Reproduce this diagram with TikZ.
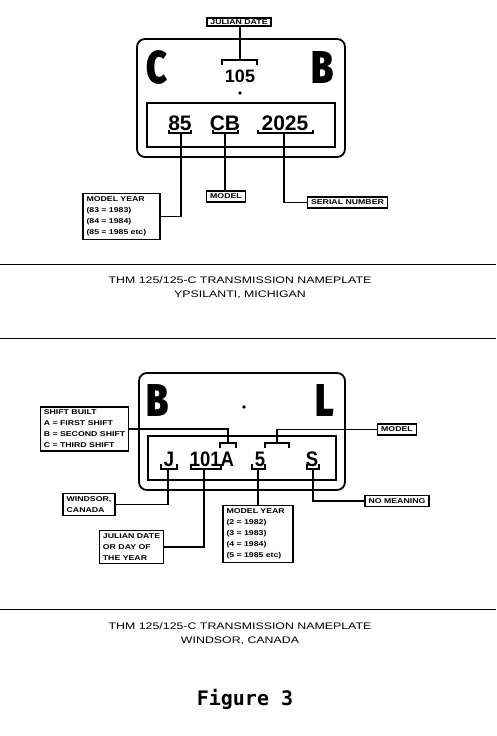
\documentclass[tikz,border=0pt]{standalone}
\usepackage{fontspec}
\setmainfont{Liberation Sans}
\setmonofont{DejaVu Sans Mono}
\newfontfamily\bigfont[FakeStretch=0.78]{Fira Sans Black}
\newfontfamily\platefont{Liberation Sans}
\newfontfamily\narrowfont[FakeStretch=0.88]{Liberation Sans}
\newfontfamily\tagfont[FakeStretch=1.25]{Liberation Sans}
\newfontfamily\capfont[FakeStretch=1.3]{Liberation Sans}

\begin{document}
\begin{tikzpicture}[x=1pt,y=-1pt,
    letter/.style={font=\bigfont\fontsize{46}{46}\selectfont, inner sep=0},
    digits/.style={font=\platefont\bfseries\fontsize{21}{21}\selectfont, inner sep=0},
    digitsB/.style={font=\narrowfont\bfseries\fontsize{21}{21}\selectfont, inner sep=0},
    tag/.style={draw, line width=1.3pt, font=\tagfont\bfseries\fontsize{7}{11}\selectfont,
      align=left, inner xsep=3.5pt, inner ysep=3pt},
    lead/.style={line width=1.2pt},
    plate/.style={line width=1.8pt, rounded corners=8pt},
    caption/.style={font=\capfont\fontsize{9.5}{14}\selectfont, align=center, inner sep=0},
    rule/.style={line width=0.8pt}]
      \useasboundingbox (0,0) rectangle (496,736);
      % Ypsilanti plate
      \draw[plate] (137,39) rectangle (345,157);
      \draw[line width=1.4pt] (147,103) rectangle (335,147);
      \node[letter] (cA) at (157,67) {C};
      \node[letter] (bA) at (323,67) {B};
      \node[digits, font=\platefont\bfseries\fontsize{18}{18}\selectfont] (n105) at (240,76) {105};
      \fill (240,93) circle (1.8);
      \node[digits] (n85) at (180,123) {85};
      \node[digits] (nCB) at (225,123) {CB};
      \node[digits] (n2025) at (285,123) {2025};
      \draw[lead] (222,65) -- (222,60) -- (257,60) -- (257,65);
      \coordinate (k105) at (240,60);
      \draw[lead] (169,130) -- (169,133) -- (191,133) -- (191,130);
      \coordinate (k85) at (181,133);
      \draw[lead] (213,130) -- (213,133) -- (238,133) -- (238,130);
      \coordinate (kCB) at (225,133);
      \draw[lead] (258,130) -- (258,133) -- (313,133) -- (313,130);
      \coordinate (k2025) at (284,133);
      \node[tag, inner ysep=1.5pt] (jdate) at (239,22) {JULIAN DATE};
      \node[tag, text width=70pt] (yearA) at (121.5,216.5) {MODEL YEAR\\(83 = 1983)\\(84 = 1984)\\(85 = 1985 etc)};
      \node[tag] (modelA) at (226,196.5) {MODEL};
      \node[tag] (serial) at (347.5,202.5) {SERIAL NUMBER};
      \draw[lead] (k105) -- (k105 |- jdate.south);
      \draw[lead] (k85) |- (yearA.east);
      \draw[lead] (kCB) -- (kCB |- modelA.north);
      \draw[lead] (k2025) |- (serial.west);
      \draw[rule] (0,264) -- (496,264);
      \node[caption] (capA) at (240,288) {THM 125/125-C TRANSMISSION NAMEPLATE\\YPSILANTI, MICHIGAN};
      \draw[rule] (0,338) -- (496,338);
      % Windsor plate
      \draw[plate] (139,373) rectangle (345,490);
      \draw[line width=1.4pt] (148,436) rectangle (336,480);
      \node[letter] (bB) at (158,400) {B};
      \node[letter] (lB) at (325,400) {L};
      \fill (244,407) circle (1.8);
      \node[digitsB] (nJ) at (169,459.5) {J};
      \node[digitsB] (n101A) at (212,459.5) {101A};
      \node[digitsB] (n5) at (260,459.5) {5};
      \node[digitsB] (nS) at (312,459.5) {S};
      \draw[lead] (220,448) -- (220,443) -- (236,443) -- (236,448);
      \coordinate (kA) at (228,443);
      \draw[lead] (265,448) -- (265,443) -- (289,443) -- (289,448);
      \coordinate (kM) at (277,443);
      \draw[lead] (161,464) -- (161,469) -- (177,469) -- (177,464);
      \coordinate (kJ) at (168,469);
      \draw[lead] (191,464) -- (191,469) -- (221,469) -- (221,464);
      \coordinate (k101) at (204,469);
      \draw[lead] (252,464) -- (252,469) -- (265,469) -- (265,464);
      \coordinate (k5) at (258,469);
      \draw[lead] (307,464) -- (307,469) -- (319,469) -- (319,464);
      \coordinate (kS) at (313,469);
      \node[tag] (shift) at (84.5,429) {SHIFT BUILT\\A = FIRST SHIFT\\B = SECOND SHIFT\\C = THIRD SHIFT};
      \node[tag] (modelB) at (397,429.5) {MODEL};
      \node[tag] (windsor) at (89,504.5) {WINDSOR,\\CANADA};
      \node[tag] (julB) at (131.5,547) {JULIAN DATE\\OR DAY OF\\THE YEAR};
      \node[tag, text width=63pt] (yearB) at (258,534) {MODEL YEAR\\(2 = 1982)\\(3 = 1983)\\(4 = 1984)\\(5 = 1985 etc)};
      \node[tag] (nomean) at (397,501) {NO MEANING};
      \draw[lead] (shift.east) -| (kA);
      \draw[lead] (kM) |- (modelB.west);
      \draw[lead] (kJ) |- (windsor.east);
      \draw[lead] (k101) |- (julB.east);
      \draw[lead] (k5) -- (k5 |- yearB.north);
      \draw[lead] (kS) |- (nomean.west);
      \draw[rule] (0,609) -- (496,609);
      \node[caption] (capB) at (240,634) {THM 125/125-C TRANSMISSION NAMEPLATE\\WINDSOR, CANADA};
      \node[anchor=base, inner sep=0, font=\ttfamily\bfseries\fontsize{20}{20}\selectfont] (fig) at (245,705) {Figure 3};
\end{tikzpicture}
\end{document}
